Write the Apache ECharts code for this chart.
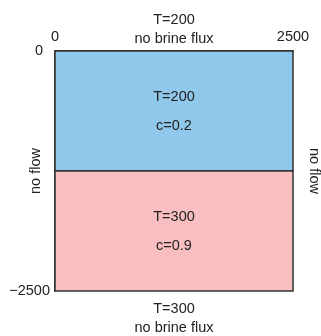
<!DOCTYPE html>
<html>
<head>
<meta charset="utf-8">
<script src="https://cdn.jsdelivr.net/npm/echarts@6/dist/echarts.min.js"></script>
<style>
  html, body { margin: 0; padding: 0; background: #fff; }
  #main { width: 321px; height: 336px; }
</style>
</head>
<body>
<div id="main"></div>
<script>
// domain: x 0..2500, depth 0..-2500, two layers
var xTicks = [0, 2500];
var yTicks = [-2500, 0];
var layerTop = [0, -1250];
var layerBottom = [-1250, -2500];
var layerTemp = [200, 300];
var layerConc = [0.2, 0.9];
var topBoundary = "T=200\nno brine flux";
var bottomBoundary = "T=300\nno brine flux";
var sideBoundary = "no flow";

var FONT = "Liberation Sans";
var layerColors = ["#8fc8eb", "#f8bec0"];

var layers = [];
for (var i = 0; i < layerTop.length; i++) {
  layers.push([xTicks[0], xTicks[1], layerTop[i], layerBottom[i], layerTemp[i], layerConc[i]]);
}

var myChart = echarts.init(document.getElementById("main"));

function renderLayer(params, api) {
  var p0 = api.coord([api.value(0), api.value(2)]);
  var p1 = api.coord([api.value(1), api.value(3)]);
  var cx = (p0[0] + p1[0]) / 2;
  var cy = (p0[1] + p1[1]) / 2;
  return {
    type: "group",
    children: [
      {
        type: "rect",
        shape: { x: p0[0], y: p0[1], width: p1[0] - p0[0], height: p1[1] - p0[1] },
        style: { fill: layerColors[params.dataIndex], stroke: "#333", lineWidth: 1.5 },
      },
      {
        type: "text",
        style: {
          text: "T=" + api.value(4),
          x: cx, y: cy - 14,
          align: "center", verticalAlign: "middle",
          fill: "#222", font: "14.5px " + FONT,
        },
      },
      {
        type: "text",
        style: {
          text: "c=" + api.value(5),
          x: cx, y: cy + 15,
          align: "center", verticalAlign: "middle",
          fill: "#222", font: "14.5px " + FONT,
        },
      },
    ],
  };
}

var axisLine = { show: true, lineStyle: { color: "#333", width: 1.5 } };
var nameStyle = { color: "#222", fontSize: 14.5, fontFamily: FONT, lineHeight: 19 };

var option = {
  animation: false,
  grid: { left: 55, top: 51, width: 238, height: 240, containLabel: false, outerBoundsMode: "none" },
  xAxis: [
    {
      type: "value", position: "top", min: xTicks[0], max: xTicks[1], interval: 2500,
      axisLine: axisLine, axisTick: { show: false }, splitLine: { show: false },
      axisLabel: {
        color: "#222", fontSize: 14.5, fontFamily: FONT, margin: 7,
        formatter: function (v) { return String(v); },
      },
      name: topBoundary, nameLocation: "middle", nameGap: 3, nameMoveOverlap: false,
      nameTextStyle: nameStyle,
    },
    {
      type: "value", position: "bottom", min: xTicks[0], max: xTicks[1],
      axisLine: axisLine, axisTick: { show: false }, splitLine: { show: false },
      axisLabel: { show: false },
      name: bottomBoundary, nameLocation: "middle", nameGap: 8, nameMoveOverlap: false,
      nameTextStyle: nameStyle,
    },
  ],
  yAxis: [
    {
      type: "value", position: "left", min: yTicks[0], max: yTicks[1], interval: 2500,
      axisLine: axisLine, axisTick: { show: false }, splitLine: { show: false },
      axisLabel: {
        color: "#222", fontSize: 14.5, fontFamily: FONT, margin: 5,
        formatter: function (v) {
          return v === 0 ? "{z|0}" : "\u22122500";
        },
        rich: { z: { fontSize: 14.5, fontFamily: FONT, color: "#222", padding: [0, 7, 0, 0] } },
      },
      name: sideBoundary, nameLocation: "middle", nameGap: 10, nameRotate: 90, nameMoveOverlap: false,
      nameTextStyle: nameStyle,
    },
    {
      type: "value", position: "right", min: yTicks[0], max: yTicks[1],
      axisLine: axisLine, axisTick: { show: false }, splitLine: { show: false },
      axisLabel: { show: false },
      name: sideBoundary, nameLocation: "middle", nameGap: 11, nameRotate: -90, nameMoveOverlap: false,
      nameTextStyle: nameStyle,
    },
  ],
  series: [
    {
      type: "custom",
      xAxisIndex: 0,
      yAxisIndex: 0,
      renderItem: renderLayer,
      data: layers,
      clip: false,
    },
  ],
};
myChart.setOption(option);
</script>
</body>
</html>
